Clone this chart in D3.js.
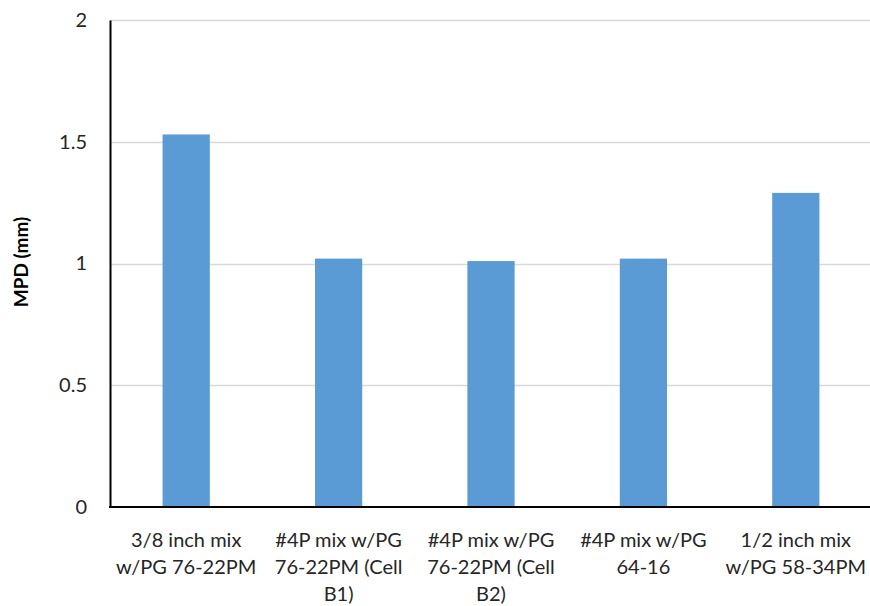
<!DOCTYPE html>
<html>
<head>
<meta charset="utf-8">
<script src="https://cdn.jsdelivr.net/npm/d3@7"></script>
<style>
  html, body { margin: 0; padding: 0; background: #fff; }
  svg { display: block; font-family: Lato, "Open Sans", sans-serif; }
</style>
</head>
<body>
<svg id="chart" width="870" height="606"></svg>
<script>
// Mean profile depth per mix
const categories = [
  ["3/8 inch mix", "w/PG 76-22PM"],
  ["#4P mix w/PG", "76-22PM (Cell", "B1)"],
  ["#4P mix w/PG", "76-22PM (Cell", "B2)"],
  ["#4P mix w/PG", "64-16"],
  ["1/2 inch mix", "w/PG 58-34PM"]
];
const mpdValues = [1.53, 1.02, 1.01, 1.02, 1.29];
const yTicks = [0, 0.5, 1, 1.5, 2];
const yTitle = "MPD (mm)";

const svg = d3.select("#chart");
const margin = { left: 110, right: 0, top: 20, bottom: 99 };
const W = 870, H = 606;

const x = d3.scaleBand()
  .domain(d3.range(categories.length))
  .range([margin.left, 872])
  .paddingInner(0.69)
  .paddingOuter(0.345);

const y = d3.scaleLinear()
  .domain([0, 2])
  .range([507, 20]);

// Horizontal gridlines
svg.append("g")
  .selectAll("line")
  .data(yTicks.filter(t => t > 0))
  .join("line")
  .attr("x1", margin.left)
  .attr("x2", W)
  .attr("y1", d => Math.round(y(d)) + 0.5)
  .attr("y2", d => Math.round(y(d)) + 0.5)
  .attr("stroke", "#d9d9d9")
  .attr("stroke-width", 1.5);

// Bars
svg.append("g")
  .selectAll("rect")
  .data(mpdValues)
  .join("rect")
  .attr("x", (d, i) => x(i))
  .attr("width", x.bandwidth())
  .attr("y", d => y(d))
  .attr("height", d => y(0) - y(d))
  .attr("fill", "#5b9bd5");

// Y axis
const yAxis = svg.append("g")
  .attr("transform", `translate(${margin.left},0)`)
  .call(d3.axisLeft(y).tickValues(yTicks).tickSize(0).tickPadding(23).tickFormat(d3.format("")));
yAxis.select(".domain").attr("stroke", "#000").attr("stroke-width", 2);
yAxis.selectAll("text")
  .attr("font-size", 20)
  .attr("font-family", "Lato, 'Open Sans', sans-serif")
  .attr("fill", "#262626");

// X axis baseline
svg.append("line")
  .attr("x1", margin.left - 1)
  .attr("x2", W)
  .attr("y1", y(0))
  .attr("y2", y(0))
  .attr("stroke", "#000")
  .attr("stroke-width", 2);

// Category labels (multi-line)
const labels = svg.append("g")
  .selectAll("text")
  .data(categories)
  .join("text")
  .attr("x", (d, i) => x(i) + x.bandwidth() / 2)
  .attr("y", 547)
  .attr("text-anchor", "middle")
  .attr("font-size", 20)
  .attr("fill", "#262626");
labels.each(function(lines, i) {
  d3.select(this).selectAll("tspan")
    .data(lines)
    .join("tspan")
    .attr("x", x(i) + x.bandwidth() / 2)
    .attr("dy", (d, j) => j === 0 ? 0 : 27)
    .text(d => d);
});

// Y axis title
svg.append("text")
  .attr("transform", "translate(28,262) rotate(-90)")
  .attr("text-anchor", "middle")
  .attr("font-size", 19)
  .attr("font-weight", "bold")
  .attr("fill", "#000")
  .text(yTitle);
</script>
</body>
</html>
